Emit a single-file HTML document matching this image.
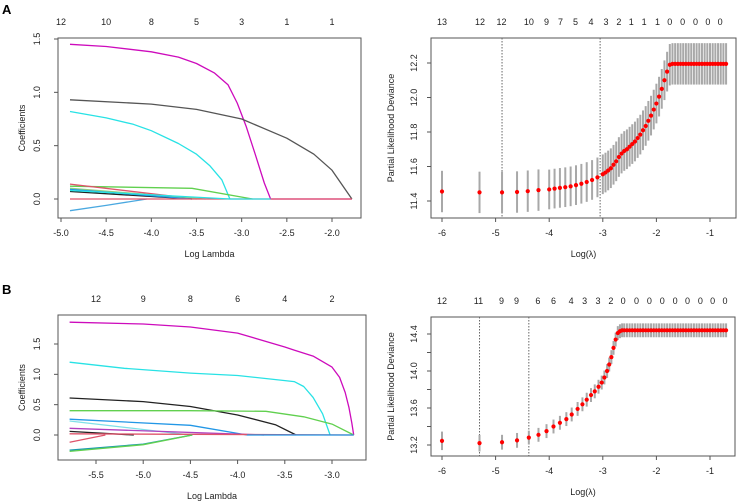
<!DOCTYPE html>
<html><head><meta charset="utf-8"><style>
html,body{margin:0;padding:0;background:#fff;}
svg{display:block;font-family:"Liberation Sans",Arial,sans-serif;}
</style></head><body>
<svg id="fig" width="743" height="504" viewBox="0 0 743 504" xmlns="http://www.w3.org/2000/svg">
<rect width="743" height="504" fill="#fff"/>
<text x="2" y="14" font-size="13" font-weight="bold">A</text>
<text x="2" y="294" font-size="13" font-weight="bold">B</text>
</svg>
<script>
// ---------- Data: panel A coefficient paths ----------
const pathColorsA = ["#CD0BBC","#555555","#28E2E5","#61D04F","#DF536B","#90D080","#222222","#2297E6","#4AA8E0","#DF536B","#28E2E5"];
const pathXA = [
 [-4.9,-4.5,-4.0,-3.7,-3.5,-3.3,-3.15,-3.05,-2.95,-2.85,-2.75,-2.68,-1.78],
 [-4.9,-4.0,-3.5,-3.0,-2.5,-2.2,-2.0,-1.78],
 [-4.9,-4.5,-4.2,-4.0,-3.7,-3.5,-3.35,-3.22,-3.13],
 [-4.9,-3.55,-2.88],
 [-4.9,-3.5],
 [-4.9,-3.4],
 [-4.9,-3.55],
 [-4.9,-3.55],
 [-4.9,-4.5,-4.05],
 [-4.9,-1.78],
 [-4.9,-3.13,-2.68]
];
const pathYA = [
 [1.45,1.43,1.38,1.33,1.27,1.18,1.07,0.9,0.68,0.42,0.15,0,0],
 [0.93,0.89,0.84,0.75,0.57,0.42,0.27,0],
 [0.82,0.76,0.70,0.64,0.52,0.42,0.31,0.18,0],
 [0.12,0.10,0],
 [0.14,0],
 [0.10,0],
 [0.07,0],
 [0.09,0],
 [-0.11,-0.06,0],
 [0,0],
 [0.08,0,0]
];
// ---------- Data: panel B coefficient paths ----------
const pathColorsB = ["#CD0BBC","#28E2E5","#222222","#61D04F","#2297E6","#7FE0E8","#B040C0","#222222","#DF536B","#DF536B","#1A9AB0","#61D04F","#2297E6"];
const pathXB = [
 [-5.78,-5.0,-4.5,-4.0,-3.5,-3.4,-3.2,-3.0,-2.92,-2.86,-2.82,-2.79,-2.77],
 [-5.78,-5.2,-4.5,-4.0,-3.4,-3.3,-3.2,-3.1,-3.02],
 [-5.78,-5.0,-4.5,-4.0,-3.6,-3.38],
 [-5.78,-4.5,-3.7,-3.3,-3.0,-2.77],
 [-5.78,-4.5,-3.9],
 [-5.78,-4.5],
 [-5.78,-3.72],
 [-5.78,-5.1],
 [-5.78,-5.4],
 [-5.78,-2.77],
 [-5.78,-5.0,-4.48],
 [-5.78,-5.0,-4.48],
 [-3.9,-2.77]
];
const pathYB = [
 [1.86,1.83,1.78,1.68,1.45,1.40,1.30,1.12,0.95,0.7,0.45,0.2,0],
 [1.20,1.10,1.02,0.98,0.88,0.8,0.62,0.35,0],
 [0.61,0.55,0.47,0.33,0.17,0],
 [0.40,0.40,0.39,0.30,0.18,0],
 [0.26,0.16,0],
 [0.23,0],
 [0.11,0],
 [0.06,0],
 [-0.12,0],
 [0.02,0],
 [-0.25,-0.15,0],
 [-0.27,-0.16,0],
 [0,0]
];
// ---------- Data: panel A cross-validation ----------
const logLambdaA = [-6,-5.3,-4.88,-4.6,-4.4,-4.2,-4.0,-3.9,-3.8,-3.7,-3.6,-3.5,-3.4,-3.3,-3.2,-3.1,-3.0,-2.95,-2.9,-2.85,-2.8,-2.75,-2.7,-2.65,-2.6,-2.55,-2.5,-2.45,-2.4,-2.35,-2.3,-2.25,-2.2,-2.15,-2.1,-2.05,-2.0,-1.95,-1.9,-1.85,-1.8,-1.75,-1.7,-1.65,-1.6,-1.55,-1.5,-1.45,-1.4,-1.35,-1.3,-1.25,-1.2,-1.15,-1.1,-1.05,-1.0,-0.95,-0.9,-0.85,-0.8,-0.75,-0.7];
const devianceA = [11.455,11.45,11.45,11.452,11.457,11.463,11.467,11.472,11.476,11.48,11.485,11.492,11.50,11.51,11.522,11.537,11.555,11.565,11.577,11.59,11.61,11.63,11.655,11.675,11.69,11.70,11.715,11.73,11.745,11.765,11.785,11.81,11.835,11.865,11.895,11.93,11.965,12.005,12.05,12.10,12.15,12.19,12.195,12.195,12.195,12.195,12.195,12.195,12.195,12.195,12.195,12.195,12.195,12.195,12.195,12.195,12.195,12.195,12.195,12.195,12.195,12.195,12.195];
const seA = [0.12,0.12,0.12,0.12,0.12,0.12,0.115,0.115,0.115,0.115,0.115,0.115,0.115,0.115,0.115,0.115,0.115,0.115,0.115,0.115,0.115,0.115,0.115,0.115,0.115,0.115,0.115,0.115,0.115,0.115,0.115,0.115,0.115,0.115,0.115,0.115,0.115,0.115,0.115,0.115,0.115,0.12,0.12,0.12,0.12,0.12,0.12,0.12,0.12,0.12,0.12,0.12,0.12,0.12,0.12,0.12,0.12,0.12,0.12,0.12,0.12,0.12,0.12];
const topLabelsA = ["13","12","12","10","9","7","5","4","3","2","1","1","1","0","0","0","0","0"];
const topLabelPosA = [-6,-5.29,-4.89,-4.38,-4.05,-3.79,-3.51,-3.22,-2.94,-2.70,-2.47,-2.23,-1.98,-1.75,-1.51,-1.27,-1.04,-0.81];
const cvLinesA = [-4.88,-3.05];
// ---------- Data: panel B cross-validation ----------
const logLambdaB = [-6,-5.3,-4.88,-4.6,-4.38,-4.2,-4.05,-3.92,-3.8,-3.68,-3.58,-3.47,-3.38,-3.3,-3.22,-3.15,-3.08,-3.02,-2.97,-2.92,-2.88,-2.84,-2.8,-2.76,-2.72,-2.68,-2.64,-2.6,-2.55,-2.5,-2.45,-2.4,-2.35,-2.3,-2.25,-2.2,-2.15,-2.1,-2.05,-2.0,-1.95,-1.9,-1.85,-1.8,-1.75,-1.7,-1.65,-1.6,-1.55,-1.5,-1.45,-1.4,-1.35,-1.3,-1.25,-1.2,-1.15,-1.1,-1.05,-1.0,-0.95,-0.9,-0.85,-0.8,-0.75,-0.7];
const devianceB = [13.245,13.22,13.23,13.25,13.28,13.31,13.35,13.40,13.44,13.48,13.53,13.59,13.64,13.69,13.74,13.78,13.83,13.875,13.93,14.0,14.07,14.15,14.25,14.34,14.41,14.43,14.44,14.44,14.44,14.44,14.44,14.44,14.44,14.44,14.44,14.44,14.44,14.44,14.44,14.44,14.44,14.44,14.44,14.44,14.44,14.44,14.44,14.44,14.44,14.44,14.44,14.44,14.44,14.44,14.44,14.44,14.44,14.44,14.44,14.44,14.44,14.44,14.44,14.44,14.44,14.44];
const seB = [0.1,0.09,0.08,0.08,0.075,0.075,0.075,0.075,0.075,0.075,0.075,0.075,0.075,0.075,0.075,0.075,0.075,0.075,0.075,0.075,0.075,0.075,0.075,0.075,0.075,0.075,0.075,0.075,0.075,0.075,0.075,0.075,0.075,0.075,0.075,0.075,0.075,0.075,0.075,0.075,0.075,0.075,0.075,0.075,0.075,0.075,0.075,0.075,0.075,0.075,0.075,0.075,0.075,0.075,0.075,0.075,0.075,0.075,0.075,0.075,0.075,0.075,0.075,0.075,0.075,0.075];
const topLabelsB = ["12","11","9","9","6","6","4","3","3","2","0","0","0","0","0","0","0","0","0"];
const topLabelPosB = [-6,-5.32,-4.89,-4.61,-4.21,-3.92,-3.59,-3.34,-3.09,-2.85,-2.62,-2.37,-2.13,-1.89,-1.65,-1.42,-1.18,-0.95,-0.72];
const cvLinesB = [-5.3,-4.38];
// ---------- Tick labels ----------
const xTicksAL = [-5.0,-4.5,-4.0,-3.5,-3.0,-2.5,-2.0];
const xTickLabelsAL = ["-5.0","-4.5","-4.0","-3.5","-3.0","-2.5","-2.0"];
const topLabelsAL = ["12","10","8","5","3","1","1"];
const yTicksAL = [0,0.5,1.0,1.5];
const yTickLabelsAL = ["0.0","0.5","1.0","1.5"];
const xTicksBL = [-5.5,-5.0,-4.5,-4.0,-3.5,-3.0];
const xTickLabelsBL = ["-5.5","-5.0","-4.5","-4.0","-3.5","-3.0"];
const topLabelsBL = ["12","9","8","6","4","2"];
const yTicksBL = [0,0.5,1.0,1.5];
const yTickLabelsBL = ["0.0","0.5","1.0","1.5"];
const xTicksR = [-6,-5,-4,-3,-2,-1];
const xTickLabelsR = ["-6","-5","-4","-3","-2","-1"];
const yTicksAR = [11.4,11.6,11.8,12.0,12.2];
const yTickLabelsAR = ["11.4","11.6","11.8","12.0","12.2"];
const yTicksBR = [13.2,13.4,13.6,13.8,14.0,14.2,14.4];
const yTickLabelsBR = ["13.2","","13.6","","14.0","","14.4"];

const NS="http://www.w3.org/2000/svg";
const svg=document.getElementById('fig');
function mk(tag,attrs,parent){const e=document.createElementNS(NS,tag);for(const k in attrs)e.setAttribute(k,attrs[k]);(parent||svg).appendChild(e);return e;}
function lin(d0,d1,r0,r1){return v=>r0+(v-d0)*(r1-r0)/(d1-d0);}

function frame(g,box,sx,sy,xt,xl,yt,yl,topPos,topLab,xTitle,yTitle,titleX,yLabX){
  const r=mk('rect',{x:box[0],y:box[1],width:box[2]-box[0],height:box[3]-box[1],fill:'none',stroke:'#555','stroke-width':1},g);
  
  
  xt.forEach((v,i)=>{
    const x=sx(v);
    mk('line',{x1:x,x2:x,y1:box[3],y2:box[3]+4,stroke:'#555'},g);
    const t=mk('text',{x:x,y:box[3]+18,'font-size':9,'text-anchor':'middle',fill:'#222'},g);
    t.textContent=xl[i];
    
    
  });
  yt.forEach((v,i)=>{
    const y=sy(v);
    mk('line',{x1:box[0]-4,x2:box[0],y1:y,y2:y,stroke:'#555'},g);
    if(yl[i]){
      const t=mk('text',{x:yLabX,y:y,'font-size':9,'text-anchor':'middle',fill:'#222',transform:`rotate(-90 ${yLabX} ${y})`},g);
      t.textContent=yl[i];
      
      
    }
  });
  topPos.forEach((v,i)=>{
    const t=mk('text',{x:sx(v),y:box[1]-13,'font-size':9,'text-anchor':'middle',fill:'#222'},g);
    t.textContent=topLab[i];
    
    
  });
  const xtEl=mk('text',{x:(box[0]+box[2])/2,y:box[3]+39,'font-size':9,'text-anchor':'middle',fill:'#222'},g);
  xtEl.textContent=xTitle;
  
  
  const cy=(box[1]+box[3])/2;
  const ytEl=mk('text',{x:titleX,y:cy,'font-size':9,'text-anchor':'middle',fill:'#222',transform:`rotate(-90 ${titleX} ${cy})`},g);
  ytEl.textContent=yTitle;
  
  
}

function coefPanel(name,box,sx,sy,X,Y,C,xt,xl,yt,yl,topLab){
  const g=mk('g',{});
  
  
  frame(g,box,sx,sy,xt,xl,yt,yl,xt.slice(0,topLab.length),topLab,'Log Lambda','Coefficients',box[0]-33,box[0]-18);
  X.forEach((xs,i)=>{
    const d=xs.map((x,j)=>(j?'L':'M')+sx(x).toFixed(1)+' '+sy(Y[i][j]).toFixed(1)).join(' ');
    const p=mk('path',{d:d,fill:'none',stroke:C[i],'stroke-width':1.3,'stroke-linejoin':'round'},g);
    
    
  });
}

function cvPanel(name,box,sx,sy,L,D,S,lines,xt,xl,yt,yl,topPos,topLab){
  const g=mk('g',{});
  
  
  frame(g,box,sx,sy,xt,xl,yt,yl,topPos,topLab,'Log(\u03bb)','Partial Likelihood Deviance',box[0]-37,box[0]-14);
  lines.forEach(v=>{
    const l=mk('line',{x1:sx(v),x2:sx(v),y1:box[1],y2:box[3],stroke:'#666','stroke-dasharray':'1.5 1.5','stroke-width':1},g);
    
    
  });
  L.forEach((v,i)=>{
    const x=sx(v);
    const b=mk('line',{x1:x,x2:x,y1:sy(D[i]+S[i]),y2:sy(D[i]-S[i]),stroke:'#a8a8a8','stroke-width':2},g);
    
    
  });
  L.forEach((v,i)=>{
    const c=mk('circle',{cx:sx(v),cy:sy(D[i]),r:2.1,fill:'#f00'},g);
    
    
  });
}

coefPanel('panel-a-coefficients',[58,38,361,218],lin(-5,-2,61,332),lin(0,1.5,199,39),pathXA,pathYA,pathColorsA,xTicksAL,xTickLabelsAL,yTicksAL,yTickLabelsAL,topLabelsAL);
cvPanel('panel-a-cv',[431,38,736,218],lin(-6,-1,442,710),lin(11.4,12.2,201,63),logLambdaA,devianceA,seA,cvLinesA,xTicksR,xTickLabelsR,yTicksAR,yTickLabelsAR,topLabelPosA,topLabelsA);
coefPanel('panel-b-coefficients',[58,315,366,460],lin(-5.5,-3,96,332),lin(0,1.5,435,344),pathXB,pathYB,pathColorsB,xTicksBL,xTickLabelsBL,yTicksBL,yTickLabelsBL,topLabelsBL);
cvPanel('panel-b-cv',[431,317,735,456],lin(-6,-1,442,710),lin(13.2,14.4,445,334),logLambdaB,devianceB,seB,cvLinesB,xTicksR,xTickLabelsR,yTicksBR,yTickLabelsBR,topLabelPosB,topLabelsB);
</script>
</body></html>
